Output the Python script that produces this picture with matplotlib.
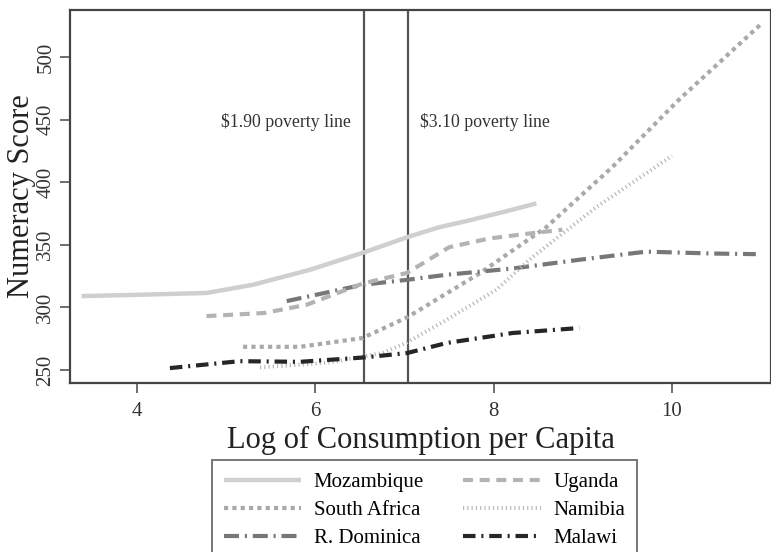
import matplotlib
matplotlib.use("Agg")
import matplotlib.pyplot as plt

# smoothed numeracy score against log consumption, one curve per country
moz_x = [3.38, 4.0, 4.78, 5.3, 5.94, 6.55, 7.03, 7.39, 7.7, 8.1, 8.48]
moz_y = [309, 310, 311.5, 318, 330, 344, 356, 364, 369, 376, 383]

uga_x = [4.78, 5.43, 5.9, 6.53, 7.03, 7.5, 7.95, 8.4, 8.77]
uga_y = [293, 295.5, 302, 319, 327.5, 348, 355, 359, 362]

saf_x = [5.19, 5.83, 6.53, 7.03, 7.84, 8.59, 9.33, 10.08, 11.01]
saf_y = [268.5, 268.5, 275.5, 292, 327, 364, 412, 466, 527]

nam_x = [5.38, 6.16, 6.75, 7.03, 7.47, 8.03, 8.4, 9.15, 10.0]
nam_y = [252, 256, 263.5, 272, 290, 314, 338, 380, 421]

dom_x = [5.68, 6.53, 7.03, 7.47, 8.21, 8.96, 9.71, 10.45, 10.94]
dom_y = [305, 318, 322, 326, 331, 338, 344.5, 343, 342.5]

mal_x = [4.37, 5.15, 5.83, 6.55, 7.03, 7.47, 8.21, 8.96]
mal_y = [251.5, 257, 256.5, 260, 263.5, 271.5, 279.5, 283.5]

poverty_x = [6.55, 7.04]
poverty_labels = ["$1.90 poverty line", "$3.10 poverty line"]

x_ticks = [4, 6, 8, 10]
y_ticks = [250, 300, 350, 400, 450, 500]

plt.rcParams["font.family"] = ["Liberation Serif", "DejaVu Serif"]

fig = plt.figure(figsize=(7.71, 5.52), dpi=100)
ax = fig.add_axes([0.0908, 0.3062, 0.9092, 0.6757])

ax.plot(moz_x, moz_y, color="#cfcfcf", lw=3.2, solid_capstyle="butt",
        label="Mozambique")
ax.plot(saf_x, saf_y, color="#a9a9a9", lw=3.0, dash_capstyle="butt",
        linestyle=(0, (1.0, 1.0)), label="South Africa")
ax.plot(dom_x, dom_y, color="#777777", lw=3.0, dash_capstyle="butt",
        linestyle=(0, (3.6, 1.4, 0.5, 1.4)), label="R. Dominica")
ax.plot(uga_x, uga_y, color="#b3b3b3", lw=3.0, dash_capstyle="butt",
        linestyle=(0, (2.4, 1.6)), label="Uganda")
ax.plot(nam_x, nam_y, color="#b5b5b5", lw=2.8, dash_capstyle="butt",
        linestyle=(0, (0.3, 0.8)), label="Namibia")
ax.plot(mal_x, mal_y, color="#262626", lw=3.0, dash_capstyle="butt",
        linestyle=(0, (3.0, 1.4, 0.5, 1.4)), label="Malawi")

for xv in poverty_x:
    ax.axvline(xv, color="#555555", lw=1.6, zorder=1)

ax.text(poverty_x[0] - 0.15, 448, poverty_labels[0], ha="right", va="center",
        fontsize=12.8, color="#333333")
ax.text(poverty_x[1] + 0.13, 448, poverty_labels[1], ha="left", va="center",
        fontsize=12.8, color="#333333")

ax.set_xlim(3.25, 11.11)
ax.set_ylim(239.6, 537.5)
ax.set_xticks(x_ticks)
ax.set_yticks(y_ticks)
ax.tick_params(axis="both", direction="out", length=7, width=1.2,
               color="#555555", labelsize=15, labelcolor="#333333")
ax.tick_params(axis="x", pad=7)
plt.setp(ax.get_yticklabels(), rotation=90, va="center")

for side in ["left", "top", "bottom", "right"]:
    ax.spines[side].set_color("#444444")
    ax.spines[side].set_linewidth(1.6)

ax.set_xlabel("Log of Consumption per Capita", fontsize=22, labelpad=3,
              color="#222222")
ax.set_ylabel("Numeracy Score", fontsize=22, labelpad=0, color="#222222")

handles, labels = ax.get_legend_handles_labels()
leg = fig.legend(handles, labels,
                 loc="upper center", bbox_to_anchor=(0.5506, 0.1667), ncol=2,
                 fontsize=15, frameon=True, fancybox=False, handlelength=3.7,
                 handletextpad=0.6, columnspacing=1.9, labelspacing=0.4,
                 borderpad=0.6, borderaxespad=0)
leg.get_frame().set_edgecolor("#555555")
leg.get_frame().set_linewidth(1.4)

fig.savefig("out.png", dpi=100)
